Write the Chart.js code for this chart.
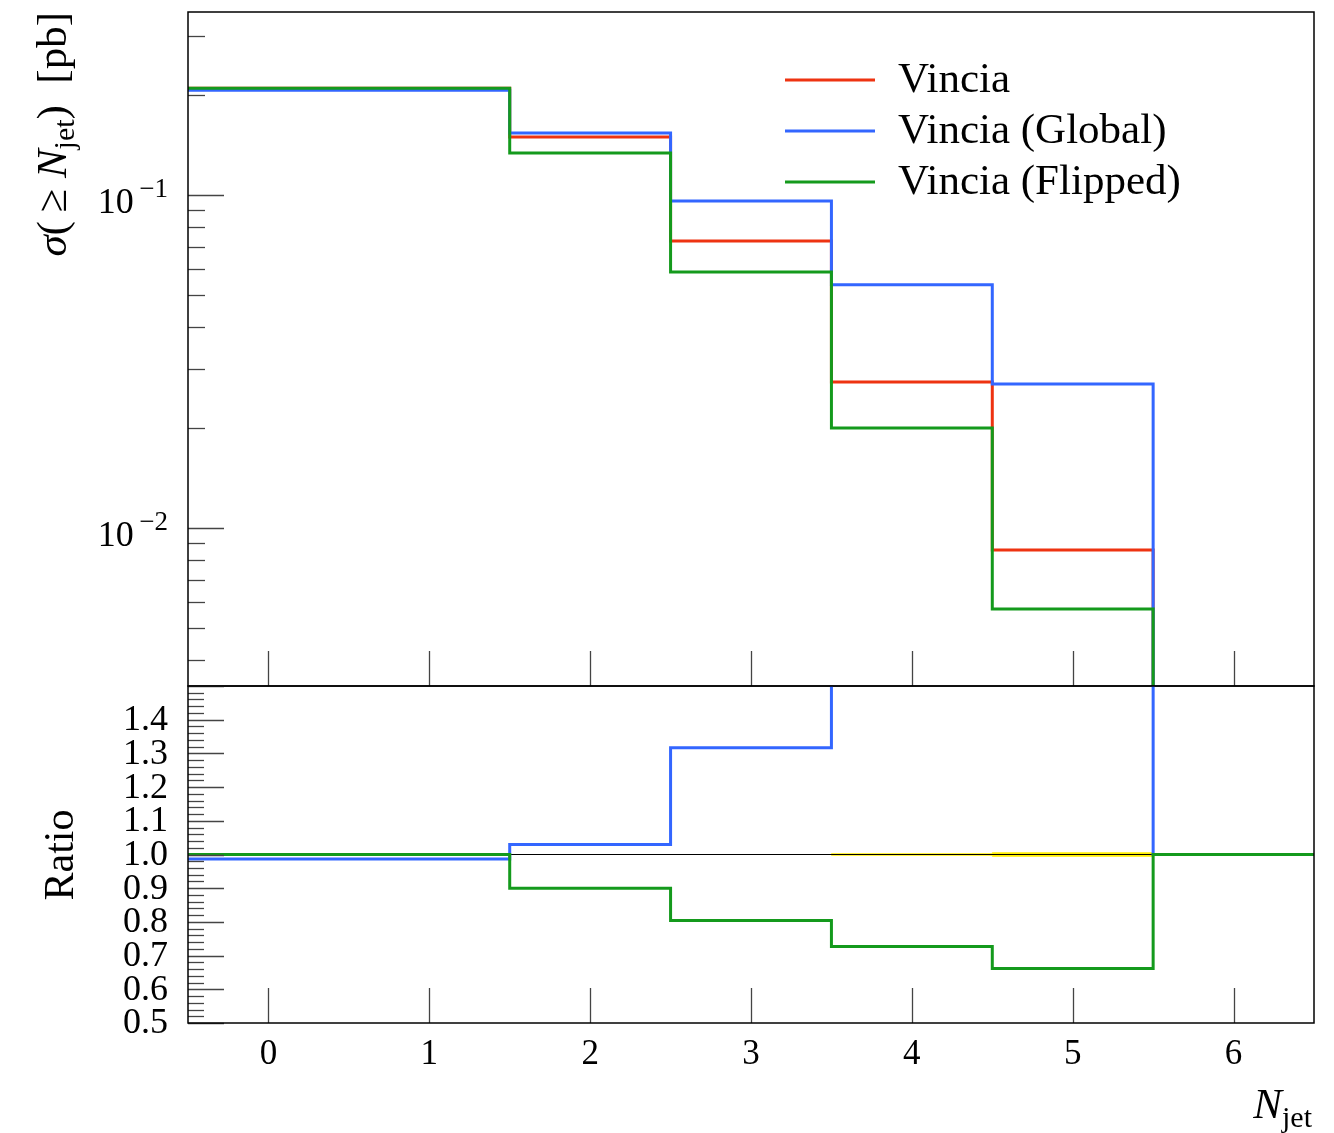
<!DOCTYPE html>
<html>
<head>
<meta charset="utf-8">
<script src="https://cdn.jsdelivr.net/npm/chart.js@4.4.1/dist/chart.umd.min.js"></script>
<style>
  body { margin: 0; background: #fff; }
  #wrap { position: relative; width: 1334px; height: 1133px; }
  canvas { position: absolute; left: 0; top: 0; }
</style>
</head>
<body>
<div id="wrap">
  <canvas id="topChart" width="1334" height="1133"></canvas>
  <canvas id="ratioChart" width="1334" height="1133"></canvas>
</div>
<script>
// bin edges of the N_jet histogram
const binEdges = [-0.5, 0.5, 1.5, 2.5, 3.5, 4.5, 5.5, 6.5];
const xTicks = [0, 1, 2, 3, 4, 5, 6];

const seriesNames = ["Vincia", "Vincia (Global)", "Vincia (Flipped)"];
const seriesColors = ["#ee3311", "#3366ff", "#149a1c"];

// sigma(>= N_jet) [pb], one value per bin (0 = empty bin)
const sigmaVincia = [0.209, 0.209, 0.1493, 0.0727, 0.02744, 0.00859, 0];
const sigmaGlobal = [0.2062, 0.2062, 0.1535, 0.0959, 0.0537, 0.02706, 0];
const sigmaFlipped = [0.2091, 0.2091, 0.1337, 0.0587, 0.01997, 0.00571, 0];

// ratio to Vincia
const ratioGlobal = [0.987, 0.987, 1.03, 1.317, 1.96, 3.15, 1.0];
const ratioFlipped = [1.0, 1.0, 0.90, 0.804, 0.727, 0.662, 1.0];
const ratioRef = [1, 1, 1, 1, 1, 1, 1];
const refBandUp = [1, 1, 1, 1, 1.003, 1.006, 1];
const refBandDown = [1, 1, 1, 1, 0.997, 0.994, 1];

const topYMin = 0.003353;
const topYMax = 0.3543;
const topYLabels = [0.1, 0.01];
const ratioYLabels = [0.5, 0.6, 0.7, 0.8, 0.9, 1.0, 1.1, 1.2, 1.3, 1.4];

const FONT = "'Liberation Serif', 'DejaVu Serif', serif";

// histogram -> step points (point i opens bin i; closing edge only if last bin is filled)
// on the log axis an empty bin sits on the axis floor
function toSteps(vals, floor) {
  const yv = v => (floor !== undefined && v <= 0 ? floor : v);
  const pts = vals.map((v, i) => ({ x: binEdges[i], y: yv(v) }));
  const last = vals[vals.length - 1];
  if (last > 0) pts.push({ x: binEdges[binEdges.length - 1], y: last });
  return pts;
}

function stepSet(label, vals, color, order, width, floor) {
  return {
    label: label,
    data: toSteps(vals, floor),
    borderColor: color,
    backgroundColor: color,
    borderWidth: width || 3,
    stepped: "before",
    pointRadius: 0,
    fill: false,
    clip: 0,
    order: order,
  };
}

// draw text made of pieces with different fonts / offsets
function richWidth(ctx, parts) {
  let w = 0;
  parts.forEach(p => { ctx.font = p.font; w += ctx.measureText(p.text).width; });
  return w;
}
function drawRich(ctx, parts, x, y) {
  parts.forEach(p => {
    ctx.font = p.font;
    ctx.fillText(p.text, x, y + (p.dy || 0));
    x += ctx.measureText(p.text).width;
  });
}

function drawFrame(ctx, area) {
  ctx.save();
  ctx.strokeStyle = "#000";
  ctx.lineWidth = 1.5;
  ctx.strokeRect(area.left, area.top, area.right - area.left, area.bottom - area.top);
  ctx.restore();
}

function drawXTicks(ctx, chart) {
  const xs = chart.scales.x;
  const area = chart.chartArea;
  ctx.save();
  ctx.strokeStyle = "#444";
  ctx.lineWidth = 1.3;
  xTicks.forEach(t => {
    const px = Math.round(xs.getPixelForValue(t)) + 0.5;
    ctx.beginPath();
    ctx.moveTo(px, area.bottom);
    ctx.lineTo(px, area.bottom - 35);
    ctx.stroke();
  });
  ctx.restore();
}

function hTick(ctx, left, py, len) {
  py = Math.round(py) + 0.5;
  ctx.beginPath();
  ctx.moveTo(left, py);
  ctx.lineTo(left + len, py);
  ctx.stroke();
}

const topPlugin = {
  id: "topAxes",
  afterDatasetsDraw(chart) {
    const ctx = chart.ctx;
    const area = chart.chartArea;
    const ys = chart.scales.y;

    drawXTicks(ctx, chart);

    // log ticks
    ctx.save();
    ctx.strokeStyle = "#444";
    ctx.lineWidth = 1.3;
    for (let k = -3; k <= 0; k++) {
      for (let m = 1; m <= 9; m++) {
        const v = m * Math.pow(10, k);
        if (v < ys.min || v > ys.max) continue;
        hTick(ctx, area.left, ys.getPixelForValue(v), m === 1 ? 36 : 17);
      }
    }
    ctx.restore();

    // tick labels 10^-1, 10^-2
    ctx.save();
    ctx.fillStyle = "#000";
    ctx.textBaseline = "alphabetic";
    topYLabels.forEach(v => {
      const py = ys.getPixelForValue(v);
      const e = Math.round(Math.log10(v));
      const parts = [
        { text: "10", font: "36px " + FONT, dy: 0 },
        { text: "\u2009\u2212" + Math.abs(e), font: "27px " + FONT, dy: -16 },
      ];
      const w = richWidth(ctx, parts);
      drawRich(ctx, parts, 168 - w, py + 18);
    });
    ctx.restore();

    // y title
    ctx.save();
    ctx.fillStyle = "#000";
    ctx.translate(66, 12);
    ctx.rotate(-Math.PI / 2);
    const tparts = [
      { text: "\u03c3", font: "italic 43px " + FONT },
      { text: "(\u2009\u2265\u2005", font: "43px " + FONT },
      { text: "N", font: "italic 43px " + FONT },
      { text: "jet", font: "30px " + FONT, dy: 8 },
      { text: ")\u2002[pb]", font: "43px " + FONT },
    ];
    const tw = richWidth(ctx, tparts);
    ctx.textBaseline = "alphabetic";
    drawRich(ctx, tparts, -tw, 0);
    ctx.restore();

    // legend
    ctx.save();
    const legendY = [80, 131, 182];
    seriesNames.forEach((name, i) => {
      ctx.strokeStyle = seriesColors[i];
      ctx.lineWidth = 3;
      ctx.beginPath();
      ctx.moveTo(785, legendY[i]);
      ctx.lineTo(875, legendY[i]);
      ctx.stroke();
      ctx.fillStyle = "#000";
      ctx.font = "43px " + FONT;
      ctx.textBaseline = "middle";
      ctx.fillText(name, 898, legendY[i] + 1);
    });
    ctx.restore();

    drawFrame(ctx, area);
  },
};

const ratioPlugin = {
  id: "ratioAxes",
  afterDatasetsDraw(chart) {
    const ctx = chart.ctx;
    const area = chart.chartArea;
    const ys = chart.scales.y;
    const xs = chart.scales.x;

    drawXTicks(ctx, chart);

    ctx.save();
    ctx.strokeStyle = "#444";
    ctx.lineWidth = 1.3;
    for (let i = 0; i <= 50; i++) {
      const v = 0.5 + i * 0.02;
      if (v > ys.max + 1e-9) continue;
      hTick(ctx, area.left, ys.getPixelForValue(v), i % 5 === 0 ? 36 : 16);
    }
    ctx.restore();

    // y tick labels
    ctx.save();
    ctx.fillStyle = "#000";
    ctx.font = "36px " + FONT;
    ctx.textAlign = "right";
    ctx.textBaseline = "middle";
    ratioYLabels.forEach(v => {
      ctx.fillText(v.toFixed(1), 168, ys.getPixelForValue(v) + 1);
    });
    ctx.restore();

    // x tick labels
    ctx.save();
    ctx.fillStyle = "#000";
    ctx.font = "35px " + FONT;
    ctx.textAlign = "center";
    ctx.textBaseline = "middle";
    xTicks.forEach(t => {
      ctx.fillText(String(t), xs.getPixelForValue(t), 1055);
    });
    ctx.restore();

    // Ratio title
    ctx.save();
    ctx.fillStyle = "#000";
    ctx.translate(73, 855);
    ctx.rotate(-Math.PI / 2);
    ctx.font = "42px " + FONT;
    ctx.textAlign = "center";
    ctx.textBaseline = "alphabetic";
    ctx.fillText("Ratio", 0, 0);
    ctx.restore();

    // x title
    ctx.save();
    ctx.fillStyle = "#000";
    ctx.textBaseline = "alphabetic";
    const xparts = [
      { text: "N", font: "italic 43px " + FONT },
      { text: "jet", font: "30px " + FONT, dy: 9 },
    ];
    const xw = richWidth(ctx, xparts);
    drawRich(ctx, xparts, 1312 - xw, 1118);
    ctx.restore();

    drawFrame(ctx, area);
  },
};

function baseOptions(padding, yScale) {
  return {
    responsive: false,
    animation: false,
    devicePixelRatio: 1,
    events: [],
    layout: { padding: padding },
    plugins: { legend: { display: false }, tooltip: { enabled: false } },
    scales: {
      x: { type: "linear", min: -0.5, max: 6.5, display: false },
      y: yScale,
    },
  };
}

new Chart(document.getElementById("topChart"), {
  type: "line",
  data: {
    datasets: [
      stepSet(seriesNames[0], sigmaVincia, seriesColors[0], 3, 3, topYMin),
      stepSet(seriesNames[1], sigmaGlobal, seriesColors[1], 2, 3, topYMin),
      stepSet(seriesNames[2], sigmaFlipped, seriesColors[2], 1, 3, topYMin),
    ],
  },
  options: baseOptions(
    { left: 188, top: 12, right: 20, bottom: 447 },
    { type: "logarithmic", min: topYMin, max: topYMax, display: false }
  ),
  plugins: [topPlugin],
});

const bandLow = stepSet("band low", refBandDown, "#ffee00", 6, 0.5);
const bandHigh = stepSet("band high", refBandUp, "#ffee00", 5, 0.5);
bandHigh.fill = "-1";
bandHigh.backgroundColor = "#ffee00";

new Chart(document.getElementById("ratioChart"), {
  type: "line",
  data: {
    datasets: [
      bandLow,
      bandHigh,
      stepSet("ref", ratioRef, "#000", 4, 1.2),
      stepSet(seriesNames[1], ratioGlobal, seriesColors[1], 2),
      stepSet(seriesNames[2], ratioFlipped, seriesColors[2], 1),
    ],
  },
  options: baseOptions(
    { left: 188, top: 686, right: 20, bottom: 110 },
    { type: "linear", min: 0.5, max: 1.5, display: false }
  ),
  plugins: [ratioPlugin],
});
</script>
</body>
</html>
